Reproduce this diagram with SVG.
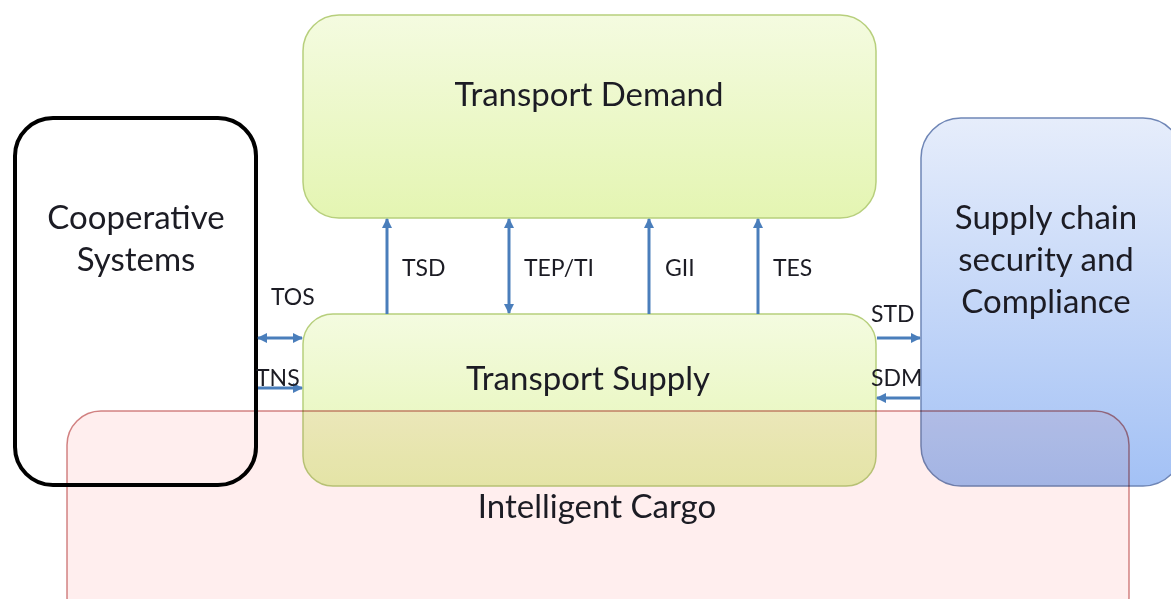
<svg xmlns="http://www.w3.org/2000/svg" width="1171" height="599" viewBox="0 0 1171 599">
  <defs>
    <linearGradient id="gGreen" x1="0" y1="0" x2="0" y2="1">
      <stop offset="0" stop-color="#f4fbe0"/>
      <stop offset="1" stop-color="#e4f5b2"/>
    </linearGradient>
    <linearGradient id="gBlue" x1="0" y1="0" x2="0" y2="1">
      <stop offset="0" stop-color="#e6edfb"/>
      <stop offset="1" stop-color="#a3c1f5"/>
    </linearGradient>
    <marker id="arr" viewBox="0 0 10 10" refX="9" refY="5" markerWidth="3.4" markerHeight="3.4" orient="auto-start-reverse" markerUnits="strokeWidth">
      <path d="M0,0 L10,5 L0,10 Z" fill="#4a7ebb"/>
    </marker>
    <style>
      .big { font-family: Lato, "Open Sans", "Liberation Sans", sans-serif; font-size: 33px; fill: #1c1c24; text-anchor: middle; }
      .small { font-family: Lato, "Open Sans", "Liberation Sans", sans-serif; font-size: 23px; fill: #1c1c24; }
      .green { fill: url(#gGreen); stroke: #b7cf7c; stroke-width: 1.5; }
      .conn { stroke: #4a7ebb; stroke-width: 3; fill: none; }
    </style>
  </defs>

  <rect width="1171" height="599" fill="#ffffff"/>

  <!-- Cooperative Systems -->
  <g id="cooperative-systems">
    <rect x="15" y="118" width="241" height="367" rx="38" fill="none" stroke="#000000" stroke-width="4"/>
    <text class="big" x="136" y="229" font-size="34">Cooperative</text>
    <text class="big" x="136" y="271" font-size="34">Systems</text>
  </g>

  <!-- Transport Demand -->
  <g id="transport-demand">
    <rect class="green" x="303" y="15" width="573" height="203" rx="36"/>
    <text class="big" x="589" y="106">Transport Demand</text>
  </g>

  <!-- Transport Supply -->
  <g id="transport-supply">
    <rect class="green" x="303" y="314" width="573" height="172" rx="30"/>
    <text class="big" x="588" y="390">Transport Supply</text>
  </g>

  <!-- Supply chain security and Compliance -->
  <g id="supply-chain">
    <rect x="921" y="118" width="262" height="368" rx="40" fill="url(#gBlue)" stroke="#6f86b6" stroke-width="1.5"/>
    <text class="big" x="1046" y="229" font-size="34">Supply chain</text>
    <text class="big" x="1046" y="271" font-size="34">security and</text>
    <text class="big" x="1046" y="313" font-size="34">Compliance</text>
  </g>

  <!-- Connectors -->
  <g id="connectors">
    <line class="conn" x1="387" y1="314" x2="387" y2="219" marker-end="url(#arr)"/>
    <line class="conn" x1="509" y1="219" x2="509" y2="313" marker-start="url(#arr)" marker-end="url(#arr)"/>
    <line class="conn" x1="649" y1="314" x2="649" y2="219" marker-end="url(#arr)"/>
    <line class="conn" x1="758" y1="314" x2="758" y2="219" marker-end="url(#arr)"/>
    <line class="conn" x1="258" y1="338" x2="302" y2="338" marker-start="url(#arr)" marker-end="url(#arr)"/>
    <line class="conn" x1="258" y1="388" x2="302" y2="388" marker-end="url(#arr)"/>
    <line class="conn" x1="877" y1="338" x2="920" y2="338" marker-end="url(#arr)"/>
    <line class="conn" x1="920" y1="398" x2="877" y2="398" marker-end="url(#arr)"/>
    <text class="small" x="402" y="276">TSD</text>
    <text class="small" x="524" y="276">TEP/TI</text>
    <text class="small" x="665" y="276">GII</text>
    <text class="small" x="773" y="276">TES</text>
    <text class="small" x="271" y="305">TOS</text>
    <text class="small" x="256" y="386">TNS</text>
    <text class="small" x="871" y="322">STD</text>
    <text class="small" x="871" y="386">SDM</text>
  </g>

  <!-- Intelligent Cargo (translucent overlay) -->
  <g id="intelligent-cargo">
    <rect x="67" y="411" width="1062" height="220" rx="34" fill="#ffeeee" stroke="#c25a5a" stroke-opacity="0.75" stroke-width="1.5" style="mix-blend-mode:multiply"/>
    <text class="big" x="597" y="518">Intelligent Cargo</text>
  </g>
</svg>
